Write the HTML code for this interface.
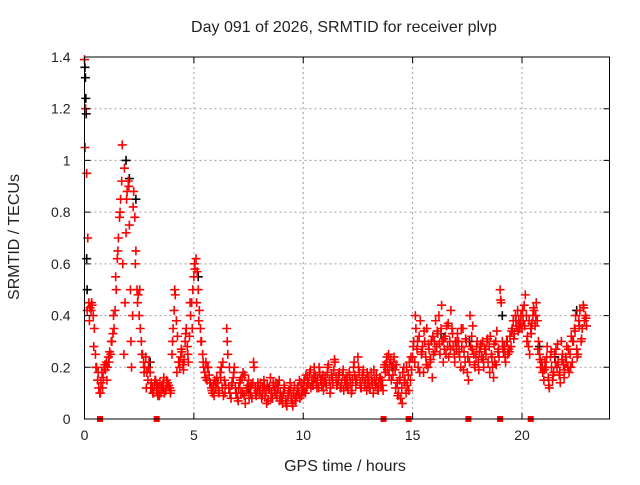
<!DOCTYPE html>
<html><head><meta charset="utf-8"><style>
html,body{margin:0;padding:0;background:#fff;}
svg text{font-family:"Liberation Sans",sans-serif;font-size:14px;fill:#222;}
svg text.big{font-size:16px;}
</style></head><body>
<svg id="chart" width="640" height="480" xmlns="http://www.w3.org/2000/svg">
<rect x="0" y="0" width="640" height="480" fill="#fff"/>
<g id="grid"></g>
<g id="marks"></g>
<g id="axes"></g>
<text class="big" x="344" y="32" text-anchor="middle">Day 091 of 2026, SRMTID for receiver plvp</text>
<text class="big" x="345" y="471" text-anchor="middle">GPS time / hours</text>
<text class="big" transform="translate(19,237) rotate(-90)" text-anchor="middle">SRMTID / TECUs</text>
</svg>
<script>
const xTicks=[0,5,10,15,20];
const yTicks=[0,0.2,0.4,0.6,0.8,1,1.2,1.4];
const yTickLabels=["0","0.2","0.4","0.6","0.8","1","1.2","1.4"];
const primaryStart=0, primaryStep=0.05;
const primaryValues=[
1.39,1.2,0.95,0.7,0.45,0.43,0.42,0.44,0.4,0.35,0.25,0.2,0.15,0.12,0.1,0.14,0.18,0.16,0.2,0.19,
0.22,0.2,0.24,0.26,0.25,0.3,0.33,0.35,0.42,0.5,0.62,0.7,0.78,0.85,0.92,0.6,0.25,0.45,0.72,0.88,
0.92,0.75,0.5,0.2,0.4,0.88,0.78,0.65,0.5,0.48,0.4,0.35,0.3,0.25,0.22,0.2,0.24,0.18,0.15,0.22,
0.18,0.14,0.12,0.1,0.13,0.15,0.11,0.09,0.12,0.14,0.1,0.13,0.12,0.1,0.11,0.15,0.14,0.13,0.12,0.11,
0.25,0.35,0.42,0.48,0.38,0.32,0.22,0.2,0.24,0.26,0.21,0.23,0.3,0.35,0.28,0.22,0.32,0.4,0.45,0.5,
0.55,0.58,0.62,0.57,0.5,0.42,0.35,0.3,0.25,0.2,0.18,0.22,0.15,0.2,0.17,0.14,0.12,0.1,0.13,0.15,
0.12,0.16,0.14,0.1,0.18,0.2,0.12,0.09,0.15,0.13,0.35,0.25,0.12,0.1,0.08,0.14,0.16,0.2,0.12,0.1,
0.08,0.12,0.14,0.1,0.16,0.18,0.09,0.06,0.11,0.13,0.15,0.12,0.1,0.08,0.14,0.2,0.12,0.09,0.11,0.13,
0.1,0.14,0.08,0.12,0.15,0.09,0.11,0.13,0.07,0.12,0.16,0.1,0.08,0.13,0.11,0.14,0.09,0.12,0.15,0.1,
0.08,0.06,0.1,0.12,0.07,0.05,0.09,0.11,0.14,0.08,0.06,0.1,0.13,0.07,0.09,0.12,0.1,0.08,0.14,0.11,
0.13,0.15,0.1,0.12,0.16,0.14,0.18,0.12,0.15,0.13,0.2,0.17,0.14,0.16,0.12,0.18,0.15,0.13,0.17,0.14,
0.16,0.13,0.18,0.21,0.15,0.12,0.17,0.14,0.19,0.22,0.16,0.13,0.15,0.18,0.12,0.14,0.17,0.11,0.15,0.13,
0.16,0.12,0.18,0.14,0.1,0.15,0.2,0.17,0.13,0.15,0.24,0.18,0.14,0.12,0.16,0.19,0.13,0.15,0.11,0.14,
0.16,0.12,0.18,0.14,0.1,0.15,0.13,0.17,0.12,0.14,0.16,0.13,0.15,0.11,0.2,0.18,0.22,0.19,0.25,0.21,
0.23,0.2,0.17,0.24,0.19,0.21,0.14,0.1,0.15,0.08,0.12,0.18,0.2,0.15,0.1,0.13,0.17,0.22,0.15,0.19,
0.24,0.3,0.22,0.35,0.27,0.2,0.32,0.38,0.25,0.28,0.18,0.3,0.24,0.35,0.2,0.27,0.22,0.3,0.16,0.25,
0.3,0.38,0.28,0.33,0.4,0.25,0.35,0.3,0.22,0.27,0.32,0.36,0.28,0.24,0.3,0.42,0.35,0.28,0.25,0.3,
0.27,0.33,0.3,0.24,0.2,0.28,0.35,0.26,0.22,0.3,0.18,0.15,0.22,0.28,0.32,0.36,0.25,0.2,0.24,0.3,
0.22,0.26,0.28,0.24,0.3,0.2,0.27,0.25,0.3,0.22,0.28,0.32,0.25,0.2,0.16,0.22,0.3,0.34,0.26,0.24,
0.5,0.45,0.3,0.26,0.28,0.22,0.3,0.25,0.27,0.32,0.28,0.35,0.38,0.33,0.4,0.36,0.42,0.38,0.35,0.4,
0.35,0.38,0.44,0.48,0.4,0.32,0.28,0.25,0.35,0.37,0.4,0.42,0.36,0.45,0.38,0.3,0.25,0.2,0.22,0.18,
0.15,0.22,0.2,0.28,0.16,0.12,0.24,0.2,0.15,0.18,0.25,0.27,0.2,0.22,0.17,0.14,0.3,0.25,0.21,0.19,
0.24,0.28,0.2,0.18,0.25,0.32,0.22,0.3,0.35,0.4,0.27,0.25,0.38,0.42,0.3,0.35,0.44,0.38,0.4,0.36];
const secondaryStart=0.025, secondaryStep=0.1;
const secondaryValues=[
1.05,0.42,0.38,0.45,0.28,0.2,0.18,0.1,0.12,0.21,
0.15,0.22,0.3,0.4,0.55,0.65,0.8,1.06,0.97,0.85,
0.9,0.3,0.82,0.6,0.45,0.5,0.25,0.18,0.12,0.2,
0.12,0.1,0.15,0.13,0.09,0.12,0.16,0.11,0.13,0.1,
0.3,0.5,0.18,0.22,0.27,0.19,0.33,0.25,0.45,0.35,
0.6,0.45,0.38,0.3,0.22,0.16,0.2,0.14,0.11,0.09,
0.14,0.11,0.16,0.22,0.1,0.3,0.2,0.13,0.18,0.1,
0.07,0.15,0.1,0.17,0.12,0.08,0.13,0.22,0.1,0.14,
0.11,0.09,0.13,0.06,0.12,0.08,0.14,0.1,0.13,0.07,
0.09,0.13,0.06,0.1,0.12,0.05,0.08,0.11,0.15,0.09,
0.11,0.17,0.14,0.19,0.13,0.16,0.12,0.2,0.15,0.11,
0.14,0.2,0.1,0.16,0.23,0.13,0.17,0.12,0.19,0.15,
0.13,0.17,0.11,0.22,0.15,0.2,0.12,0.17,0.14,0.18,
0.12,0.15,0.19,0.14,0.11,0.16,0.13,0.21,0.24,0.17,
0.15,0.22,0.12,0.09,0.16,0.06,0.14,0.2,0.11,0.24,
0.28,0.4,0.3,0.18,0.26,0.34,0.21,0.29,0.23,0.32,
0.26,0.34,0.29,0.44,0.31,0.25,0.37,0.27,0.33,0.22,
0.3,0.26,0.35,0.19,0.31,0.24,0.4,0.27,0.21,0.28,
0.19,0.29,0.23,0.27,0.31,0.18,0.24,0.29,0.21,0.27,
0.46,0.28,0.24,0.3,0.26,0.34,0.31,0.38,0.34,0.37,
0.42,0.36,0.3,0.38,0.33,0.43,0.4,0.27,0.23,0.2,
0.19,0.24,0.13,0.26,0.17,0.22,0.29,0.18,0.23,0.16,
0.22,0.27,0.2,0.3,0.34,0.24,0.36,0.31,0.43,0.39];
const blackTimes=[0.02,0.04,0.06,0.08,0.1,0.12,1.9,2.05,2.35,3.0,5.2,7.5,10.5,14.1,16.3,17.6,19.1,20.8,21.5,22.5];
const blackValues=[1.36,1.32,1.24,1.18,0.62,0.5,1.0,0.93,0.85,0.22,0.55,0.12,0.16,0.2,0.33,0.3,0.4,0.28,0.24,0.42];
const gapTimes=[0.71,3.3,13.67,14.82,17.55,19.0,20.4];

const L=84.5,R=609.5,T=57,B=419,XMAX=24,YMAX=1.4;
const xs=v=>L+(R-L)*v/XMAX, ys=v=>B-(B-T)*v/YMAX;
const NS="http://www.w3.org/2000/svg";
function mk(tag,attrs,parent){const e=document.createElementNS(NS,tag);for(const k in attrs)e.setAttribute(k,attrs[k]);parent.appendChild(e);return e;}
const grid=document.getElementById('grid'),marks=document.getElementById('marks'),axes=document.getElementById('axes');
xTicks.forEach(t=>{if(t>0){const g=mk('line',{x1:xs(t),x2:xs(t),y1:T,y2:B,stroke:'#a0a0a0','stroke-dasharray':'2,3'},grid);

}
const tk=mk('path',{d:`M${xs(t)},${B}v-6M${xs(t)},${T}v6`,stroke:'#000'},axes);


const lb=mk('text',{x:xs(t),y:B+21,'text-anchor':'middle'},axes);lb.textContent=String(t);

});
yTicks.forEach((t,i)=>{if(t>0&&t<YMAX){const g=mk('line',{x1:L,x2:R,y1:ys(t),y2:ys(t),stroke:'#a0a0a0','stroke-dasharray':'2,3'},grid);

}
const tk=mk('path',{d:`M${L},${ys(t)}h6M${R},${ys(t)}h-6`,stroke:'#000'},axes);


const lb=mk('text',{x:L-14,y:ys(t)+5,'text-anchor':'end'},axes);lb.textContent=yTickLabels[i];

});
const fr=mk('rect',{x:L,y:T,width:R-L,height:B-T,fill:'none',stroke:'#000','stroke-width':1},axes);


function cross(x,y,col,name){const p=mk('path',{d:`M${x-4.5},${y}h9M${x},${y-4.5}v9`,stroke:col,'stroke-width':1.6},marks);

}
blackTimes.forEach((t,i)=>cross(xs(t),ys(blackValues[i]),'#000','black-point'));
primaryValues.forEach((v,i)=>cross(xs(primaryStart+i*primaryStep),ys(v),'#ff0000','red-point'));
secondaryValues.forEach((v,i)=>cross(xs(secondaryStart+i*secondaryStep),ys(v),'#ff0000','red-point'));
gapTimes.forEach(t=>{const r=mk('rect',{x:xs(t)-3,y:B-3,width:6,height:6,fill:'#ff0000'},marks);

});
</script>
</body></html>
